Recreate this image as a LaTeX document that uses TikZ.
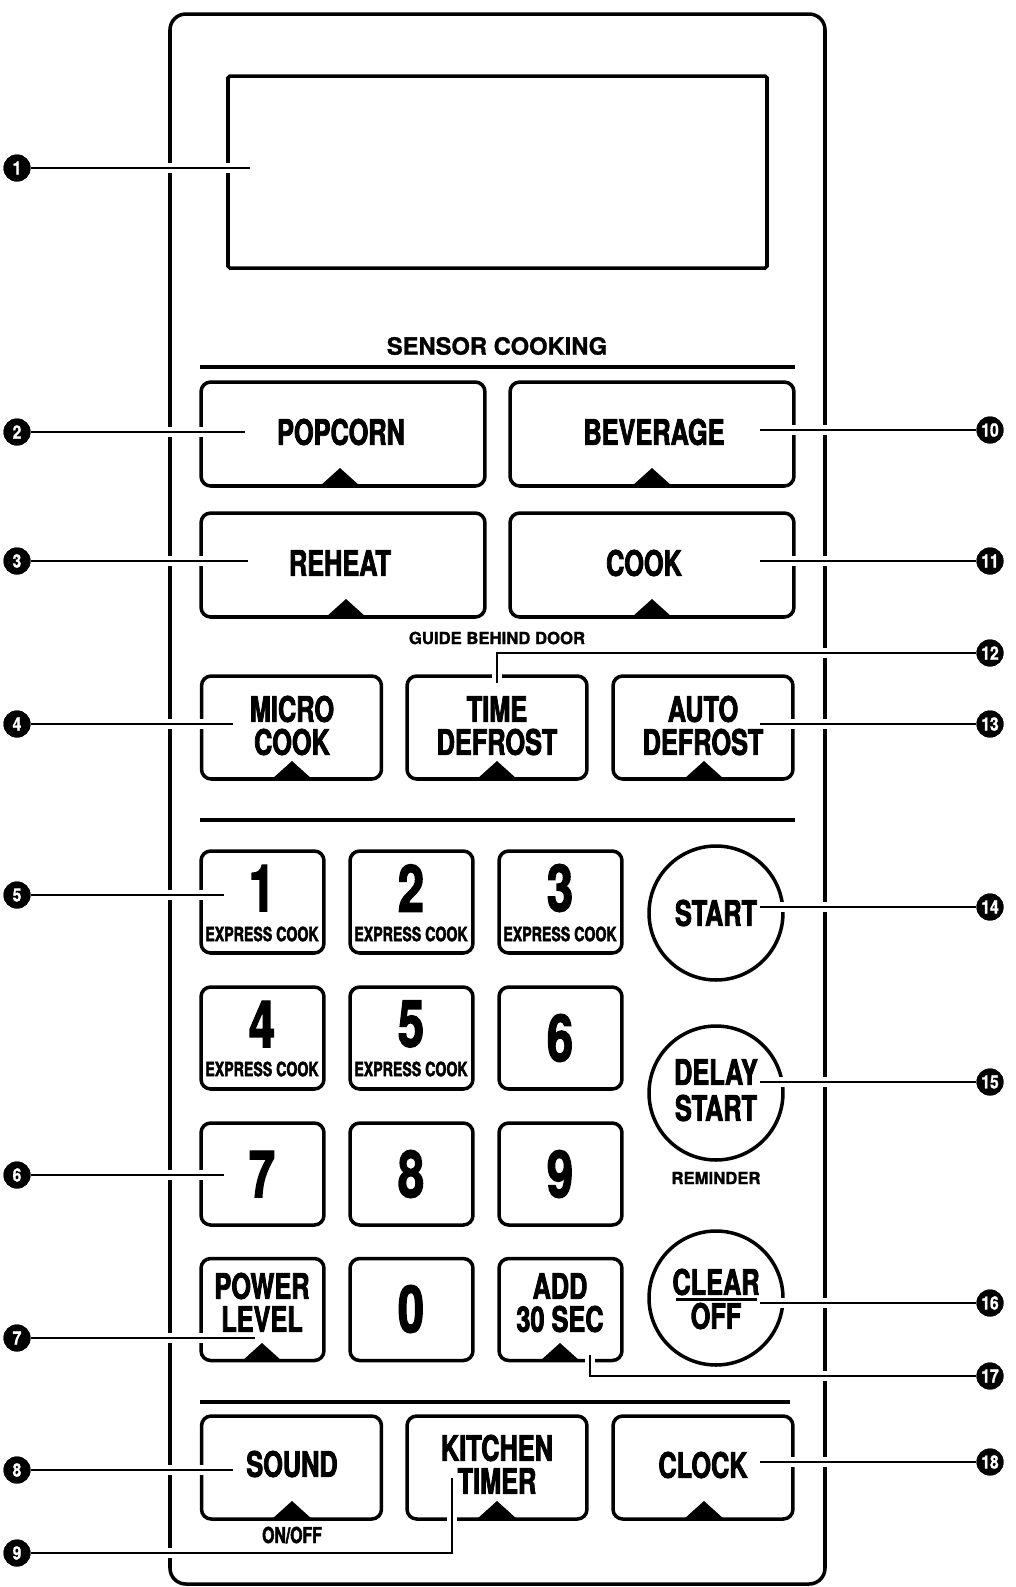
\documentclass[tikz,border=0pt]{standalone}
\usepackage{fontspec}
\setmainfont{TeX Gyre Heros}
\newfontfamily\cn{TeX Gyre Heros}[FakeStretch=0.72, FakeBold=2.2]
\newfontfamily\cnn{TeX Gyre Heros}[FakeStretch=0.85, FakeBold=1.2]
\newfontfamily\hv{TeX Gyre Heros}[FakeBold=1.2]
\tikzset{
 panel/.style={draw, line width=2pt, rounded corners=9pt},
 disp/.style={draw, line width=2pt, rounded corners=1pt},
 sep/.style={line width=2.8pt},
 key/.style={draw, line width=2pt, rounded corners=5.5pt, inner sep=0pt},
 wide/.style={key, minimum width=5.68cm, minimum height=2.08cm},
 mid/.style={key, minimum width=3.6cm, minimum height=2.06cm},
 num/.style={key, minimum width=2.46cm, minimum height=2.04cm},
 rnd/.style={draw, circle, line width=2pt, minimum size=2.68cm, inner sep=0pt},
 lbl/.style={font=\cn\bfseries\fontsize{20}{17.6}\selectfont, inner sep=0pt},
 dig/.style={font=\cn\bfseries\fontsize{37}{37}\selectfont, inner sep=0pt},
 expr/.style={font=\cn\bfseries\fontsize{11.2}{12}\selectfont, inner sep=0pt},
 head/.style={font=\hv\bfseries\fontsize{13.5}{14}\selectfont, inner sep=0pt},
 small/.style={font=\hv\bfseries\fontsize{9.5}{10}\selectfont, inner sep=0pt},
 onoff/.style={font=\cn\bfseries\fontsize{12.5}{13}\selectfont, inner sep=0pt},
 callout/.style={circle, fill=black, text=white, minimum size=0.54cm, inner sep=0pt, font=\cnn\bfseries\fontsize{10.5}{10.5}\selectfont},
 leader/.style={line width=1.6pt, preaction={draw=white, line width=5.5pt}},
 tri/.style={fill=black},
}
\begin{document}
\begin{tikzpicture}[x=0.02cm,y=-0.02cm]
\useasboundingbox (0,0) rectangle (1016,1587);
% panel and display
\draw[panel] (170,14) rectangle (825,1584);
\draw[disp] (228,76) rectangle (767,268);
% separators
\draw[sep] (200,367) -- (795,367);
\draw[sep] (200,820) -- (795,820);
\draw[sep] (200,1402) -- (790,1402);
% keys
\node[wide] (popcorn) at (343,434) {};
\node[wide] (beverage) at (652,434) {};
\node[wide] (reheat) at (343,565) {};
\node[wide] (cook) at (652,565) {};
\node[mid] (micro) at (291.5,727.5) {};
\node[mid] (timed) at (497,727.5) {};
\node[mid] (autod) at (703,727.5) {};
\node[num] (k1) at (262.5,902) {};
\node[num] (k2) at (411.5,902) {};
\node[num] (k3) at (560.5,902) {};
\node[num] (k4) at (262.5,1038) {};
\node[num] (k5) at (411.5,1038) {};
\node[num] (k6) at (560.5,1038) {};
\node[num] (k7) at (262.5,1174) {};
\node[num] (k8) at (411.5,1174) {};
\node[num] (k9) at (560.5,1174) {};
\node[num] (power) at (262.5,1309.5) {};
\node[num] (k0) at (411.5,1309.5) {};
\node[num] (add) at (560.5,1309.5) {};
\node[rnd] (start) at (716,913) {};
\node[rnd] (delay) at (716,1093) {};
\node[rnd] (clear) at (716,1298) {};
\node[mid] (sound) at (291.5,1467.5) {};
\node[mid] (timer) at (497,1467.5) {};
\node[mid] (clock) at (703,1467.5) {};
% triangles
\foreach \x/\y in {340/486, 652/486, 346/617, 652/617, 292/779, 497/779, 704/779, 262/1361, 560/1361, 292/1519, 497/1519, 704/1519}
  {\fill[tri] (\x-20,\y) -- (\x,\y-18) -- (\x+20,\y) -- cycle;}
% callouts
\node[callout] (c1) at (17,168) {1};
\node[callout] (c2) at (17,432) {2};
\node[callout] (c3) at (17,561) {3};
\node[callout] (c4) at (17,724) {4};
\node[callout] (c5) at (17,895) {5};
\node[callout] (c6) at (17,1175) {6};
\node[callout] (c7) at (17,1338) {7};
\node[callout] (c8) at (17,1470) {8};
\node[callout] (c9) at (17,1553) {9};
\node[callout] (c10) at (990,430) {10};
\node[callout] (c11) at (990,561) {11};
\node[callout] (c12) at (990,653) {12};
\node[callout] (c13) at (990,724) {13};
\node[callout] (c14) at (990,907) {14};
\node[callout] (c15) at (990,1082) {15};
\node[callout] (c16) at (990,1303) {16};
\node[callout] (c17) at (990,1376) {17};
\node[callout] (c18) at (990,1462) {18};
% leader ends
\coordinate (p1) at (250,168);
\coordinate (p2) at (245,432);
\coordinate (p3) at (248,561);
\coordinate (p4) at (233,724);
\coordinate (p5) at (224,895);
\coordinate (p6) at (224,1175);
\coordinate (p7) at (255,1338);
\coordinate (p8) at (233,1470);
\coordinate (p9) at (452,1478);
\coordinate (p10) at (760,430);
\coordinate (p11) at (760,561);
\coordinate (p12) at (497,683);
\coordinate (p13) at (760,724);
\coordinate (p14) at (760,907);
\coordinate (p15) at (760,1082);
\coordinate (p16) at (760,1303);
\coordinate (p17) at (590,1355);
\coordinate (p18) at (760,1462);
\foreach \i in {1,...,8,10,11,13,14,15,16,18} {\draw[leader] (c\i) -- (p\i);}
\draw[leader] (c9) -| (p9);
\draw[leader] (c12) -| (p12);
\draw[leader] (c17) -| (p17);
% redraw callouts above halos
\foreach \i in {1,...,18} {\node[callout] at (c\i) {\i};}
% texts
\node[head] (tsensor) at (497,346) {SENSOR COOKING};
\node[small] (tguide) at (497,638) {GUIDE BEHIND DOOR};
\node[small] (trem) at (716,1178) {REMINDER};
\node[lbl] (tpop) at (341,432) {POPCORN};
\node[lbl] (tbev) at (654,432) {BEVERAGE};
\node[lbl] (trh) at (340,563) {REHEAT};
\node[lbl] (tck) at (644,563) {COOK};
\node[lbl] (tmc1) at (292,709) {MICRO};
\node[lbl] (tmc2) at (292,742) {COOK};
\node[lbl] (ttd1) at (497,709) {TIME};
\node[lbl] (ttd2) at (497,742) {DEFROST};
\node[lbl] (tad1) at (703,709) {AUTO};
\node[lbl] (tad2) at (703,742) {DEFROST};
\node[dig] (d1) at (262,888) {1};
\node[dig] (d2) at (411,888) {2};
\node[dig] (d3) at (560,888) {3};
\node[expr] (e1) at (262,934) {EXPRESS COOK};
\node[expr] (e2) at (411,934) {EXPRESS COOK};
\node[expr] (e3) at (560,934) {EXPRESS COOK};
\node[dig] (d4) at (262,1024) {4};
\node[dig] (d5) at (411,1024) {5};
\node[dig] (d6) at (560,1038) {6};
\node[expr] (e4) at (262,1069) {EXPRESS COOK};
\node[expr] (e5) at (411,1069) {EXPRESS COOK};
\node[dig] (d7) at (262,1174) {7};
\node[dig] (d8) at (411,1174) {8};
\node[dig] (d9) at (560,1174) {9};
\node[lbl] (tpl1) at (262,1286) {POWER};
\node[lbl] (tpl2) at (262,1319) {LEVEL};
\node[dig] (d0) at (411,1309) {0};
\node[lbl] (tadd1) at (560,1286) {ADD};
\node[lbl] (tadd2) at (560,1319) {30 SEC};
\node[lbl] (tst) at (716,913) {START};
\node[lbl] (tds1) at (716,1072) {DELAY};
\node[lbl] (tds2) at (716,1108) {START};
\node[lbl] (tclr) at (716,1282) {CLEAR};
\draw[line width=1.7pt] (676,1299) -- (757,1299);
\node[lbl] (toff) at (716,1316) {OFF};
\node[lbl] (tsnd) at (292,1464) {SOUND};
\node[lbl] (tkt1) at (497,1448) {KITCHEN};
\node[lbl] (tkt2) at (497,1481) {TIMER};
\node[lbl] (tclk) at (703,1465) {CLOCK};
\node[onoff] (ton) at (292,1535) {ON/OFF};
\end{tikzpicture}
\end{document}
